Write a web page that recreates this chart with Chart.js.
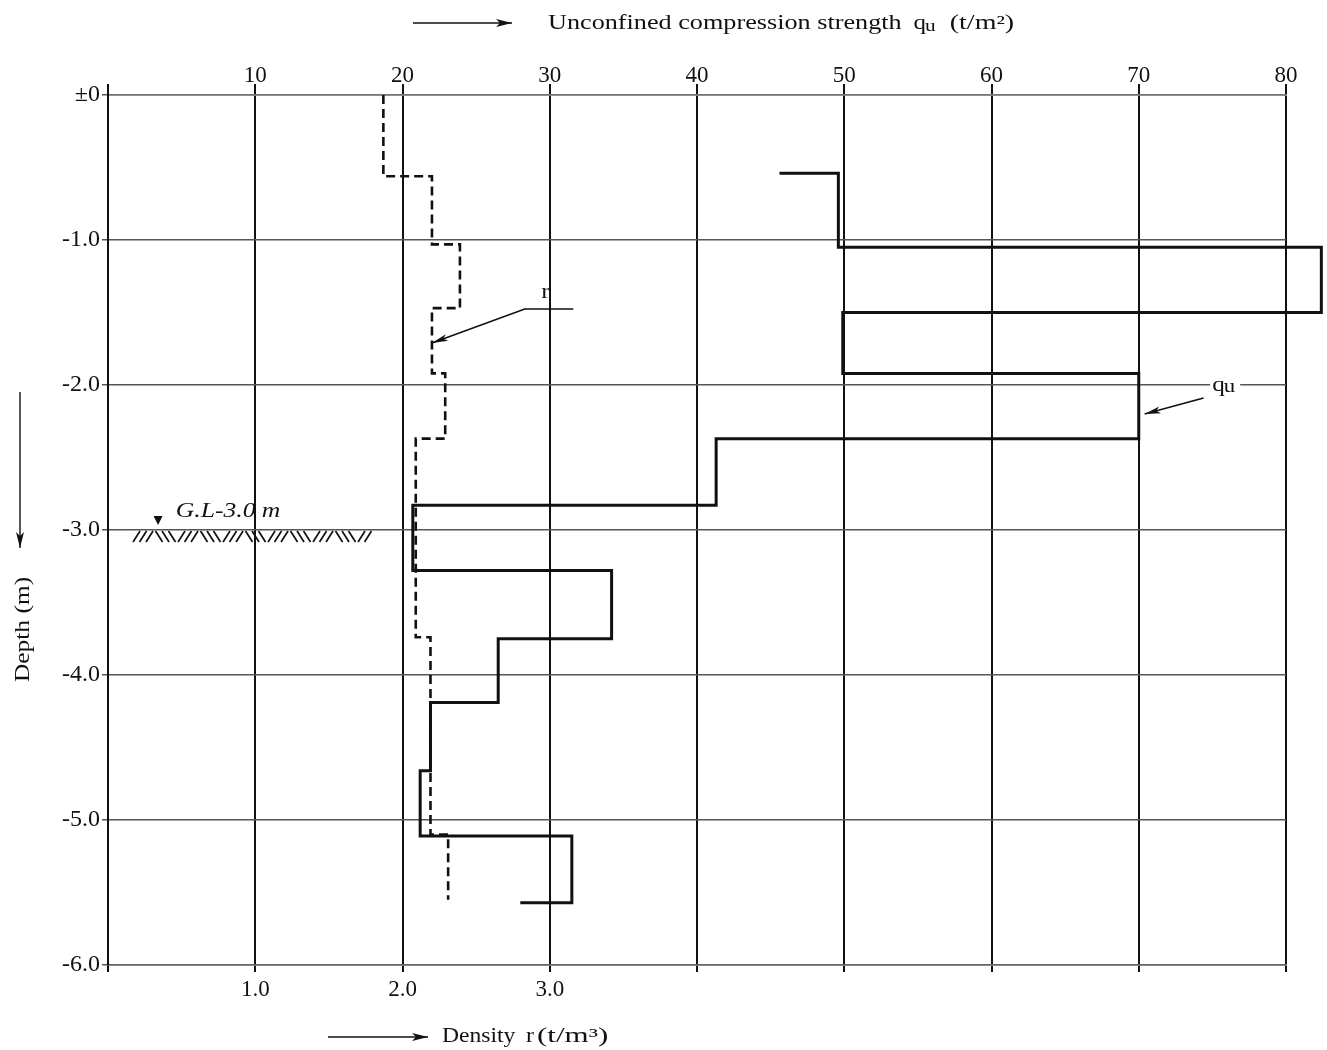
<!DOCTYPE html>
<html>
<head>
<meta charset="utf-8">
<title>Depth profile - qu and density</title>
<script src="https://cdn.jsdelivr.net/npm/chart.js@4.4.1/dist/chart.umd.min.js"></script>
<style>
  html, body { margin: 0; padding: 0; background: #fff; }
  #wrap { width: 1327px; height: 1050px; }
</style>
</head>
<body>
<div id="wrap"><canvas id="profile" width="1327" height="1050"></canvas></div>
<script>
'use strict';

// depth boundaries (m) and values of each layer
var rDepths = [0, -0.56, -1.03, -1.47, -1.92, -2.37, -3.74, -5.10, -5.55];
var rValues = [1.87, 2.20, 2.39, 2.20, 2.29, 2.09, 2.19, 2.31];          // density r (t/m3)

var quDepths = [-0.54, -1.05, -1.50, -1.92, -2.37, -2.83, -3.28, -3.75, -4.19, -4.66, -5.11, -5.57];
var quValues = [49.6, 82.4, 49.9, 70.0, 41.3, 20.7, 34.2, 26.5, 21.9, 21.2, 31.5]; // qu (t/m2)
var quStartTail = 45.6;
var quEndTail = 28.0;

// tick labels
var quTicks = [10, 20, 30, 40, 50, 60, 70, 80];
var densityTicks = [1, 2, 3];
var depthTicks = [0, -1, -2, -3, -4, -5, -6];

// annotations, in data units
var rLabel = { x: 2.97, y: -1.40 };
var rLeader = [[3.16, -1.476], [2.83, -1.476], [2.20, -1.71]];
var quLabel = { x: 75.8, y: -2.0 };
var quLeader = [[74.4, -2.09], [70.4, -2.20]];
var groundWater = { depth: -3.0, mark: 3.4, label: 4.6, from: 1.7, to: 17.5 };

function stepPoints(depths, values, startTail, endTail) {
    var pts = [];
    var i;
    if (startTail !== null) pts.push({ x: startTail, y: depths[0] });
    for (i = 0; i < values.length; i++) {
        pts.push({ x: values[i], y: depths[i] });
        pts.push({ x: values[i], y: depths[i + 1] });
    }
    if (endTail !== null) pts.push({ x: endTail, y: depths[depths.length - 1] });
    return pts;
}

var SERIF = '"Liberation Serif", "Times New Roman", serif';

// scanned lettering is wide, so the free text is stretched a bit
function sText(ctx, str, x, y, size, sx, italic) {
    ctx.save();
    ctx.font = (italic ? 'italic ' : '') + size + 'px ' + SERIF;
    ctx.translate(x, y);
    ctx.scale(sx, 1);
    ctx.textAlign = 'left';
    ctx.textBaseline = 'alphabetic';
    ctx.fillStyle = '#111';
    ctx.fillText(str, 0, 0);
    var w = ctx.measureText(str).width * sx;
    ctx.restore();
    return w;
}

function arrowHead(ctx, x1, y1, x2, y2, len, half) {
    var a = Math.atan2(y2 - y1, x2 - x1);
    ctx.beginPath();
    ctx.moveTo(x2, y2);
    ctx.lineTo(x2 - len * Math.cos(a) + half * Math.sin(a), y2 - len * Math.sin(a) - half * Math.cos(a));
    ctx.lineTo(x2 - len * 0.75 * Math.cos(a), y2 - len * 0.75 * Math.sin(a));
    ctx.lineTo(x2 - len * Math.cos(a) - half * Math.sin(a), y2 - len * Math.sin(a) + half * Math.cos(a));
    ctx.closePath();
    ctx.fill();
}

function arrowLine(ctx, x1, y1, x2, y2, width) {
    ctx.beginPath();
    ctx.moveTo(x1, y1);
    ctx.lineTo(x2, y2);
    ctx.lineWidth = width;
    ctx.stroke();
    arrowHead(ctx, x1, y1, x2, y2, 16, 4);
}

var annotations = {
    id: 'annotations',
    afterDatasetsDraw: function (chart) {
        var ctx = chart.ctx;
        var x = chart.scales.x, x2 = chart.scales.x2, y = chart.scales.y;
        var i, px, py;

        ctx.save();
        ctx.strokeStyle = '#111';
        ctx.fillStyle = '#111';

        // r leader
        ctx.beginPath();
        for (i = 0; i < rLeader.length; i++) {
            px = x2.getPixelForValue(rLeader[i][0]);
            py = y.getPixelForValue(rLeader[i][1]);
            if (i === 0) ctx.moveTo(px, py); else ctx.lineTo(px, py);
        }
        ctx.lineWidth = 1.7;
        ctx.stroke();
        var n = rLeader.length;
        arrowHead(ctx, x2.getPixelForValue(rLeader[n - 2][0]), y.getPixelForValue(rLeader[n - 2][1]),
            x2.getPixelForValue(rLeader[n - 1][0]), y.getPixelForValue(rLeader[n - 1][1]), 16, 3.5);
        sText(ctx, 'r', x2.getPixelForValue(rLabel.x) - 4, y.getPixelForValue(rLabel.y), 21, 1.2, false);

        // qu leader and label
        ctx.beginPath();
        ctx.moveTo(x.getPixelForValue(quLeader[0][0]), y.getPixelForValue(quLeader[0][1]));
        ctx.lineTo(x.getPixelForValue(quLeader[1][0]), y.getPixelForValue(quLeader[1][1]));
        ctx.lineWidth = 1.7;
        ctx.stroke();
        arrowHead(ctx, x.getPixelForValue(quLeader[0][0]), y.getPixelForValue(quLeader[0][1]),
            x.getPixelForValue(quLeader[1][0]), y.getPixelForValue(quLeader[1][1]), 16, 3.5);
        px = x.getPixelForValue(quLabel.x);
        py = y.getPixelForValue(quLabel.y);
        ctx.fillStyle = '#fff';
        ctx.fillRect(px - 14, py - 7, 30, 14);
        ctx.fillStyle = '#111';
        var qw = sText(ctx, 'q', px - 12, py + 6, 21, 1.2, false);
        sText(ctx, 'u', px - 12 + qw - 1, py + 7, 19, 1.2, false);

        // ground water level
        var gy = y.getPixelForValue(groundWater.depth);
        var mx = x.getPixelForValue(groundWater.mark);
        ctx.beginPath();
        ctx.moveTo(mx - 4.5, gy - 14);
        ctx.lineTo(mx + 4.5, gy - 14);
        ctx.lineTo(mx, gy - 5);
        ctx.closePath();
        ctx.fill();
        sText(ctx, 'G.L-3.0 m', x.getPixelForValue(groundWater.label), gy - 13, 21, 1.22, true);

        var hx0 = x.getPixelForValue(groundWater.from);
        var hx1 = x.getPixelForValue(groundWater.to);
        ctx.lineWidth = 1.7;
        ctx.beginPath();
        var k = 0, dir = 1;
        for (px = hx0; px < hx1; px += 6.5) {
            if (k % 3 === 0 && k > 0) { dir = -dir; px += 3; }
            if (dir > 0) {
                ctx.moveTo(px, gy + 12);
                ctx.lineTo(px + 7, gy + 1);
            } else {
                ctx.moveTo(px, gy + 1);
                ctx.lineTo(px + 7, gy + 12);
            }
            k++;
        }
        ctx.stroke();

        // axis captions with arrows
        ctx.strokeStyle = '#111';
        ctx.fillStyle = '#111';
        arrowLine(ctx, 413, 23, 512, 23, 1.4);
        var tx = 548;
        tx += sText(ctx, 'Unconfined compression strength', tx, 29, 20, 1.31, false);
        tx += 12;
        tx += sText(ctx, 'q', tx, 29, 20, 1.25, false);
        tx += sText(ctx, 'u', tx - 1, 31, 17, 1.25, false);
        tx += 13;
        sText(ctx, '(t/m\u00b2)', tx, 29, 20, 1.4, false);

        arrowLine(ctx, 328, 1037, 428, 1037, 1.4);
        sText(ctx, 'Density', 442, 1042, 20, 1.18, false);
        sText(ctx, 'r', 526, 1042, 20, 1.2, false);
        sText(ctx, '(t/m\u00b3)', 537, 1042, 20, 1.55, false);

        arrowLine(ctx, 20, 392, 20, 548, 1.4);
        ctx.save();
        ctx.translate(29, 682);
        ctx.rotate(-Math.PI / 2);
        sText(ctx, 'Depth (m)', 0, 0, 20, 1.27, false);
        ctx.restore();

        ctx.restore();
    }
};

Chart.defaults.font.family = SERIF;
Chart.defaults.color = '#111';

var chart = new Chart(document.getElementById('profile'), {
    type: 'scatter',
    data: {
        datasets: [{
            label: 'qu',
            data: stepPoints(quDepths, quValues, quStartTail, quEndTail),
            xAxisID: 'x',
            yAxisID: 'y',
            showLine: true,
            borderColor: '#111',
            borderWidth: 3,
            pointRadius: 0,
            tension: 0,
            clip: false
        }, {
            label: 'r',
            data: stepPoints(rDepths, rValues, null, null),
            xAxisID: 'x2',
            yAxisID: 'y',
            showLine: true,
            borderColor: '#111',
            borderWidth: 2.6,
            borderDash: [9, 5],
            pointRadius: 0,
            tension: 0,
            clip: false
        }]
    },
    options: {
        responsive: false,
        animation: false,
        devicePixelRatio: 1,
        layout: { padding: { left: 0, top: 0, right: 41, bottom: 0 } },
        plugins: {
            legend: { display: false },
            tooltip: { enabled: false }
        },
        scales: {
            x: {
                type: 'linear',
                position: 'top',
                min: 0,
                max: 80,
                afterBuildTicks: function (scale) {
                    scale.ticks = [0].concat(quTicks).map(function (v) { return { value: v }; });
                },
                ticks: {
                    font: { size: 23 },
                    padding: -6,
                    maxRotation: 0,
                    callback: function (v) { return v === 0 ? '' : String(v); }
                },
                grid: { color: '#111', lineWidth: 2, tickLength: 11 },
                border: { display: true, color: '#777', width: 1.5 },
                afterFit: function (scale) { scale.height = 95; }
            },
            x2: {
                type: 'linear',
                position: 'bottom',
                min: 0,
                max: 8,
                afterBuildTicks: function (scale) {
                    var t = [];
                    for (var v = 0; v <= 8; v++) t.push({ value: v });
                    scale.ticks = t;
                },
                ticks: {
                    font: { size: 23 },
                    padding: 4,
                    maxRotation: 0,
                    callback: function (v) { return densityTicks.indexOf(v) >= 0 ? v.toFixed(1) : ''; }
                },
                grid: { drawOnChartArea: false, color: '#111', lineWidth: 2, tickLength: 7 },
                border: { display: true, color: '#666', width: 1.5 },
                afterFit: function (scale) { scale.height = 85; }
            },
            y: {
                type: 'linear',
                min: -6,
                max: 0,
                afterBuildTicks: function (scale) {
                    scale.ticks = depthTicks.map(function (v) { return { value: v }; });
                },
                ticks: {
                    font: { size: 24 },
                    padding: 2,
                    callback: function (v) { return v === 0 ? '\u00b10' : v.toFixed(1); }
                },
                grid: { color: '#555', lineWidth: 1.5, tickLength: 6 },
                border: { display: true, color: '#111', width: 2 },
                afterFit: function (scale) { scale.width = 108; }
            }
        }
    },
    plugins: [annotations]
});
</script>
</body>
</html>
